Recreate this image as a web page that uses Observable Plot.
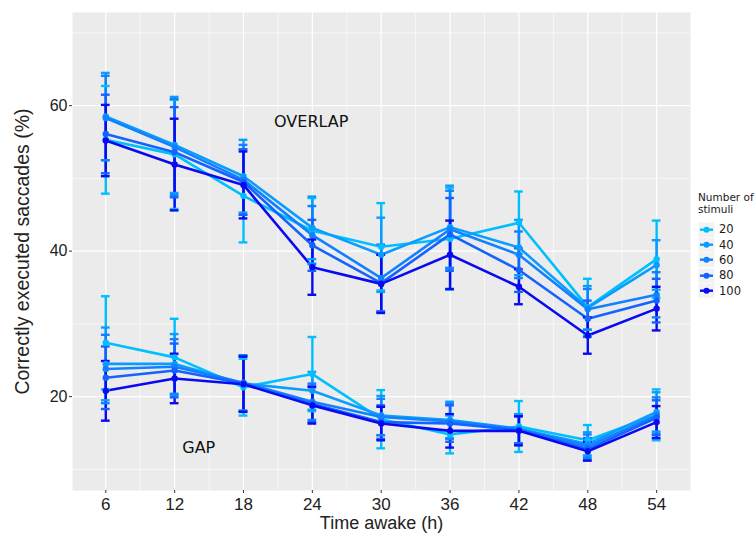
<!DOCTYPE html>
<html><head><meta charset="utf-8">
<script src="https://cdn.jsdelivr.net/npm/d3@7"></script>
<script src="https://cdn.jsdelivr.net/npm/@observablehq/plot@0.6"></script>
<style>
body{margin:0;background:#fff;}
#wrap{position:relative;width:755px;height:536px;font-family:"Liberation Sans",Arial,sans-serif;}
#legend{position:absolute;left:698px;top:191px;font-family:"DejaVu Sans",sans-serif;color:#1a1a1a;white-space:nowrap;}
#legend .title{font-size:10.5px;line-height:12px;margin-bottom:6.5px;}
#legend .row{display:flex;align-items:center;height:15.4px;}
#legend .row span{font-size:11.5px;margin-left:4px;}
#legend svg{display:block;}
</style></head><body><div id="wrap"></div>
<script>
// categories and tick labels
const hours = [6, 12, 18, 24, 30, 36, 42, 48, 54];
const stimuli = [20, 40, 60, 80, 100];
const colors = ["#00bfff", "#0a9dff", "#1081ff", "#1462ff", "#0a0af0"];
const xTicks = [6, 12, 18, 24, 30, 36, 42, 48, 54];
const xMinor = [9, 15, 21, 27, 33, 39, 45, 51];
const yTicks = [20, 40, 60];
const yMinor = [10, 30, 50, 70];

// OVERLAP condition: means and standard errors per number of stimuli
const overlapMean20  = [55.3, 53.3, 47.6, 42.8, 40.6, 41.7, 43.9, 32.3, 38.9];
const overlapMean40  = [58.5, 54.6, 50.3, 43.2, 39.5, 43.3, 40.5, 32.2, 38.1];
const overlapMean60  = [58.3, 54.3, 49.8, 42.2, 36.3, 43.0, 39.5, 32.0, 34.0];
const overlapMean80  = [56.1, 53.6, 49.5, 40.8, 35.6, 42.3, 37.4, 30.7, 33.2];
const overlapMean100 = [55.2, 51.9, 49.1, 37.8, 35.5, 39.5, 35.1, 28.4, 32.1];
const overlapSe20  = [7.4, 7.5, 6.4, 4.5, 6.0, 7.0, 4.3, 3.9, 5.3];
const overlapSe40  = [6.0, 6.6, 5.0, 4.3, 5.1, 5.7, 3.8, 3.0, 3.4];
const overlapSe60  = [5.8, 6.6, 4.8, 4.0, 4.6, 5.3, 3.2, 2.8, 3.1];
const overlapSe80  = [5.4, 6.2, 4.5, 3.5, 3.9, 5.0, 3.0, 2.5, 3.0];
const overlapSe100 = [4.9, 6.3, 4.6, 3.8, 4.0, 4.7, 2.4, 2.5, 3.0];

// GAP condition
const gapMean20  = [27.4, 25.4, 21.3, 23.1, 16.9, 14.8, 15.9, 14.0, 17.5];
const gapMean40  = [24.5, 24.5, 21.8, 20.8, 17.4, 16.8, 15.6, 13.5, 17.9];
const gapMean60  = [23.8, 24.1, 21.9, 19.3, 17.2, 16.6, 15.5, 13.2, 17.4];
const gapMean80  = [22.6, 23.6, 21.8, 19.0, 16.5, 16.3, 15.4, 12.8, 17.1];
const gapMean100 = [20.8, 22.5, 21.7, 18.8, 16.3, 15.3, 15.3, 12.5, 16.5];
const gapSe20  = [6.4, 5.3, 3.9, 5.1, 4.0, 2.6, 3.5, 2.1, 3.5];
const gapSe40  = [5.0, 4.1, 3.8, 2.6, 2.7, 2.5, 2.0, 1.6, 2.7];
const gapSe60  = [4.7, 3.8, 3.8, 2.5, 2.5, 2.4, 1.9, 1.6, 2.5];
const gapSe80  = [4.3, 3.7, 3.8, 2.5, 2.3, 2.5, 1.9, 1.5, 2.4];
const gapSe100 = [4.1, 3.4, 3.8, 2.5, 2.3, 2.3, 2.0, 1.3, 2.2];

// condition labels placed in data coordinates
const condLabels = ["OVERLAP", "GAP"];
const labelHours = [23.9, 14.1];
const labelValues = [57.7, 13.0];

const overlapMeans = [overlapMean20, overlapMean40, overlapMean60, overlapMean80, overlapMean100];
const overlapSes = [overlapSe20, overlapSe40, overlapSe60, overlapSe80, overlapSe100];
const gapMeans = [gapMean20, gapMean40, gapMean60, gapMean80, gapMean100];
const gapSes = [gapSe20, gapSe40, gapSe60, gapSe80, gapSe100];

const rows = [];
stimuli.forEach((s, i) => {
  [["OVERLAP", overlapMeans, overlapSes], ["GAP", gapMeans, gapSes]].forEach(([cond, M, S]) => {
    hours.forEach((h, j) => rows.push({cond, stim: s, key: cond + s, hour: h, mean: M[i][j], se: S[i][j]}));
  });
});
const labels = condLabels.map((t, i) => ({t, hour: labelHours[i], value: labelValues[i]}));

const capHalf = 0.38;
const ink = "#222";

const chart = Plot.plot({
  width: 755, height: 536,
  marginLeft: 72, marginRight: 65, marginTop: 12, marginBottom: 46,
  style: {fontFamily: "'Liberation Sans', Arial, sans-serif", background: "#fff", overflow: "visible"},
  x: {domain: [3.1, 56.95]},
  y: {domain: [7.1, 72.8]},
  color: {type: "ordinal", domain: stimuli, range: colors},
  marks: [
    Plot.frame({fill: "#ebebeb", stroke: null}),
    Plot.gridX(xMinor, {stroke: "#fff", strokeOpacity: 1, strokeWidth: 0.6}),
    Plot.gridY(yMinor, {stroke: "#fff", strokeOpacity: 1, strokeWidth: 0.6}),
    Plot.gridX(xTicks, {stroke: "#fff", strokeOpacity: 1, strokeWidth: 1.2}),
    Plot.gridY(yTicks, {stroke: "#fff", strokeOpacity: 1, strokeWidth: 1.2}),
    Plot.axisX(xTicks, {label: null, tickSize: 3, tickPadding: 4, fontSize: 17, stroke: "#333", fill: ink}),
    Plot.axisY(yTicks, {label: null, tickSize: 3, tickPadding: 2, fontSize: 16, stroke: "#333", fill: ink}),
    Plot.text(["Time awake (h)"], {frameAnchor: "bottom", lineAnchor: "middle", dy: 33, fontSize: 18, fill: ink}),
    Plot.text(["Correctly executed saccades (%)"], {frameAnchor: "left", textAnchor: "middle", lineAnchor: "middle", dx: -50, rotate: -90, fontSize: 19.5, fill: ink}),
    Plot.line(rows, {x: "hour", y: "mean", z: "key", stroke: "stim", strokeWidth: 2.6}),
    Plot.ruleX(rows, {x: "hour", y1: d => d.mean - d.se, y2: d => d.mean + d.se, stroke: "stim", strokeWidth: 2.4}),
    Plot.ruleY(rows, {y: d => d.mean + d.se, x1: d => d.hour - capHalf, x2: d => d.hour + capHalf, stroke: "stim", strokeWidth: 2.4}),
    Plot.ruleY(rows, {y: d => d.mean - d.se, x1: d => d.hour - capHalf, x2: d => d.hour + capHalf, stroke: "stim", strokeWidth: 2.4}),
    Plot.dot(rows, {x: "hour", y: "mean", fill: "stim", r: 3.2}),
    Plot.text(labels, {x: "hour", y: "value", text: "t", fontSize: 16, fill: "#111", fontFamily: "'DejaVu Sans', sans-serif"})
  ]
});
const wrap = document.getElementById("wrap");
wrap.appendChild(chart);

// legend
const leg = document.createElement("div");
leg.id = "legend";
let html = '<div class="title">Number of<br>stimuli</div>';
stimuli.forEach((s, i) => {
  html += `<div class="row"><svg width="17" height="15.4"><rect x="0" y="0" width="17" height="15.4" fill="#f2f2f2" stroke="#fff" stroke-width="1"/>` +
    `<line x1="2" x2="15" y1="7.7" y2="7.7" stroke="${colors[i]}" stroke-width="2.4"/>` +
    `<circle cx="8.5" cy="7.7" r="3" fill="${colors[i]}"/></svg><span>${s}</span></div>`;
});
leg.innerHTML = html;
wrap.appendChild(leg);
</script>
</body></html>
